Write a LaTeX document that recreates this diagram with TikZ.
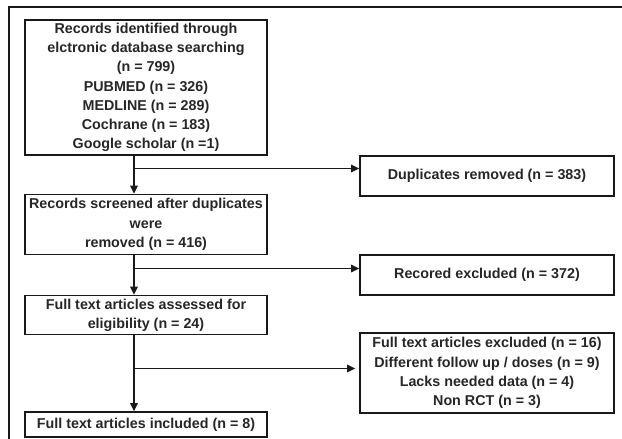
\documentclass[tikz,border=0pt]{standalone}
\usepackage{fontspec}
\setmainfont{Liberation Sans}
\usetikzlibrary{arrows.meta}
\begin{document}
\begin{tikzpicture}[x=1pt,y=-1pt,
  flowbox/.style={draw=black!90, line width=1.6pt, inner sep=0pt, align=center,
    font=\fontsize{14.3}{19.2}\selectfont\bfseries, text=black!85},
  link/.style={draw=black!90, line width=1.3pt},
  arr/.style={link, -{Triangle[length=8pt,width=7.5pt]}}]
  \useasboundingbox (0,0) rectangle (622,439);
  \clip (0,0) rectangle (622,439);

  % outer frame, running off the right and bottom edges
  \draw[line width=2.5pt, black!90] (9,450) -- (9,7) -- (630,7);

  % main column
  \node[flowbox, minimum width=242pt, minimum height=135pt] (ident) at (146,87.5)
    {Records identified through\\elctronic database searching\\(n = 799)\\PUBMED (n = 326)\\MEDLINE (n = 289)\\Cochrane (n = 183)\\Google scholar (n =1)};
  \node[flowbox, minimum width=242pt, minimum height=60pt] (screen) at (146,224.5)
    {Records screened after duplicates\\were\\removed (n = 416)};
  \node[flowbox, minimum width=242pt, minimum height=39pt] (assess) at (146,315)
    {Full text articles assessed for\\eligibility (n = 24)};
  \node[flowbox, minimum width=242pt, minimum height=25pt] (incl) at (146,424.5)
    {Full text articles included (n = 8)};

  % exclusion column
  \node[flowbox, minimum width=254pt, minimum height=40pt] (dup) at (487,176)
    {Duplicates removed (n = 383)};
  \node[flowbox, minimum width=254pt, minimum height=40pt] (rec) at (487,275)
    {Recored excluded (n = 372)};
  \node[flowbox, minimum width=254pt, minimum height=80pt] (excl) at (487,373)
    {Full text articles excluded (n = 16)\\Different follow up / doses (n = 9)\\Lacks needed data (n = 4)\\Non RCT (n = 3)};

  % spine and branch points
  \coordinate (spine) at (134,0);
  \coordinate (j1) at (134,168.5);
  \coordinate (j2) at (134,268.5);
  \coordinate (j3) at (134,368.5);

  \draw[arr] (ident.south -| spine) -- (screen.north -| spine);
  \draw[arr] (screen.south -| spine) -- (assess.north -| spine);
  \draw[arr] (assess.south -| spine) -- (incl.north -| spine);

  \draw[arr] (j1) -- (j1 -| dup.west);
  \draw[arr] (j2) -- (j2 -| rec.west);
  \draw[arr, shorten >=4pt] (j3) -- (j3 -| excl.west);
\end{tikzpicture}
\end{document}
